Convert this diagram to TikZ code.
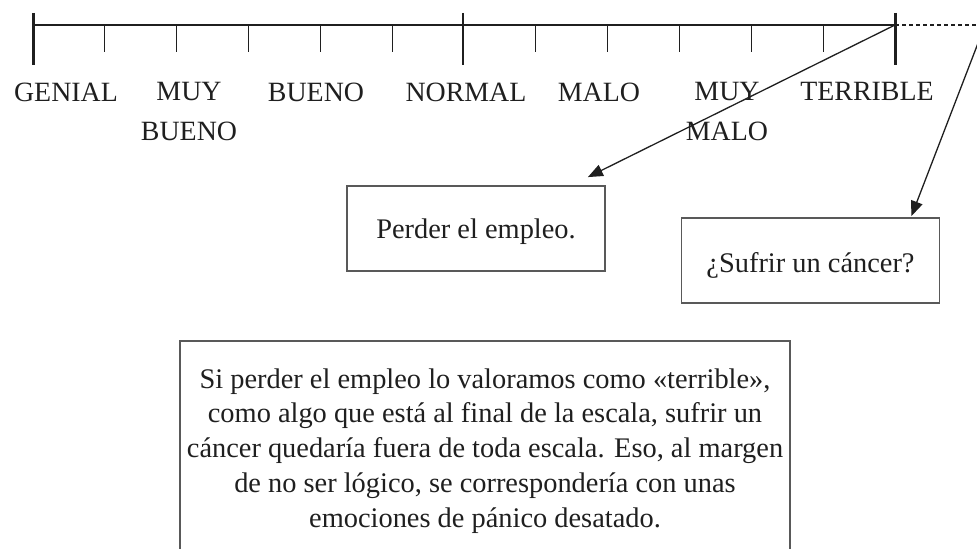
\documentclass[tikz,border=0pt]{standalone}
\usepackage{fontspec}
\setmainfont{Liberation Serif}
\usetikzlibrary{arrows.meta, calc, positioning}
\tikzset{>={Triangle[length=15bp,width=12bp]}, font=\fontsize{28.5}{35}\selectfont}

\begin{document}
\begin{tikzpicture}[x=1bp,y=-1bp,line width=1.3bp,color=black!88]
\tikzstyle{lab}=[anchor=north,inner sep=0pt,align=center,font=\fontsize{28}{40}\selectfont]
\tikzstyle{caja}=[draw,line width=1.8bp,draw=black!65,inner sep=0pt,minimum width=258bp,minimum height=85bp]

\useasboundingbox (0,0) rectangle (977,549);
\clip (0,0) rectangle (977,549);

% escala
\coordinate (ini) at (33,25);
\coordinate (mid) at (463,25);
\coordinate (fin) at (895,25);
\coordinate (fuera) at (985,25);

\draw (ini) -- (fin);
\draw [dash pattern=on 4bp off 3bp] (fin) -- (fuera);

\draw [line width=3bp] (33,13) -- (33,65);
\draw [line width=1.5bp] (463,13) -- (463,65);
\draw [line width=3bp] (895,13) -- (895,65);

\draw (104.8,25) -- (104.8,52);
\draw (176.7,25) -- (176.7,52);
\draw (248.5,25) -- (248.5,52);
\draw (320.3,25) -- (320.3,52);
\draw (392.2,25) -- (392.2,52);
\draw (535.8,25) -- (535.8,52);
\draw (607.7,25) -- (607.7,52);
\draw (679.5,25) -- (679.5,52);
\draw (751.3,25) -- (751.3,52);
\draw (823.2,25) -- (823.2,52);

\node[lab] (gen)  at (66,82)  {GENIAL};
\node[lab] (mbue) at (189,82) {MUY\\BUENO};
\node[lab] (bue)  at (316,82) {BUENO};
\node[lab] (nor)  at (466,82) {NORMAL};
\node[lab] (mal)  at (599,82) {MALO};
\node[lab] (mmal) at (727,82) {MUY\\MALO};
\node[lab] (ter)  at (867,82) {TERRIBLE};

% cajas
\node[caja,text height=27bp] (p1) at (476,228.5) {Perder el empleo.};
\node[caja,text height=30bp] (p2) at (810.5,260.5) {¿Sufrir un cáncer?};

\node[caja,anchor=north,minimum width=610bp,inner xsep=0pt,inner ysep=27.5bp,align=center] (nota) at (485,340)
  {Si perder el empleo lo valoramos como «terrible»,\\
   como algo que está al final de la escala, sufrir un\\
   cáncer quedaría fuera de toda escala. Eso, al margen\\
   de no ser lógico, se correspondería con unas\\
   emociones de pánico desatado.};

\draw [->] (fin) -- ($(p1.north east)+(-18,-8)$);
\draw [->] (fuera) -- ($(p2.north east)+(-29,-1)$);

\end{tikzpicture}
\end{document}
